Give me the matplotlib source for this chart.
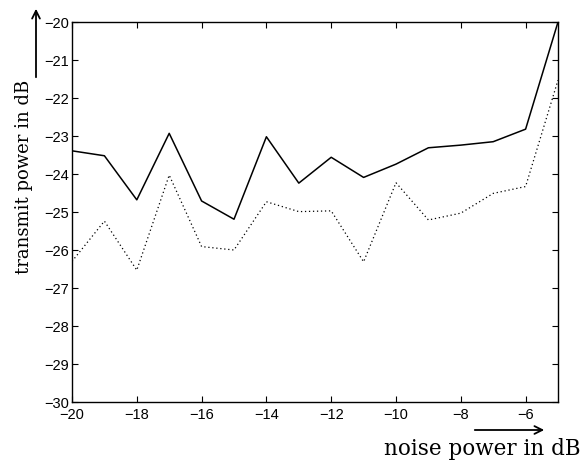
import numpy as np
import matplotlib
matplotlib.use('Agg')
import matplotlib.pyplot as plt

# noise power axis (dB)
noise_db = [-20, -19, -18, -17, -16, -15, -14, -13, -12, -11, -10, -9, -8, -7, -6, -5]

# transmit power, solid curve
tx_solid = [-23.39, -23.52, -24.68, -22.93, -24.71, -25.19, -23.02, -24.24,
            -23.56, -24.09, -23.74, -23.31, -23.24, -23.15, -22.82, -20.0]

# transmit power, dotted curve
tx_dotted = [-26.30, -25.24, -26.53, -24.03, -25.91, -26.00, -24.73, -24.99,
             -24.97, -26.31, -24.23, -25.21, -25.03, -24.51, -24.33, -21.53]

xticks = [-20, -18, -16, -14, -12, -10, -8, -6]
yticks = list(range(-30, -19))

W, H = 585, 466
fig = plt.figure(figsize=(W / 100, H / 100), dpi=100)
ax = fig.add_axes([72 / W, 1 - 402 / H, (558 - 72) / W, (402 - 22) / H])

ax.plot(noise_db, tx_solid, color='black', lw=1.1)
ax.plot(noise_db, tx_dotted, color='black', lw=0.9, ls=(0, (1, 2.2)))

ax.set_xlim(-20, -5)
ax.set_ylim(-30, -20)
ax.set_xticks(xticks)
ax.set_yticks(yticks)
ax.set_xticklabels([u'\u2212%d' % abs(v) for v in xticks])
ax.set_yticklabels([u'\u2212%d' % abs(v) for v in yticks])
ax.tick_params(direction='in', length=4, width=0.8, top=True, right=True,
               labelsize=10.5, pad=2)
ax.tick_params(axis='x', pad=4)
for lab in ax.get_xticklabels() + ax.get_yticklabels():
    lab.set_fontfamily('Liberation Sans')
for s in ax.spines.values():
    s.set_linewidth(1.0)

# axis labels with arrows, placed like the original figure
serif = 'DejaVu Serif'
fig.text(24 / W, 1 - 177 / H, 'transmit power in dB', rotation=90,
         ha='center', va='center', fontsize=13, family=serif)
fig.text(482 / W, 1 - 455 / H, 'noise power in dB',
         ha='center', va='baseline', fontsize=15.5, family=serif)

fig.add_artist(matplotlib.patches.FancyArrowPatch(
    (36 / W, 1 - 80 / H), (36 / W, 1 - 6 / H), transform=fig.transFigure,
    arrowstyle='->', mutation_scale=14, lw=1.3, color='black'))
fig.add_artist(matplotlib.patches.FancyArrowPatch(
    (472 / W, 1 - 430 / H), (547 / W, 1 - 430 / H), transform=fig.transFigure,
    arrowstyle='->', mutation_scale=14, lw=1.3, color='black'))

fig.savefig('out.png', dpi=100)
